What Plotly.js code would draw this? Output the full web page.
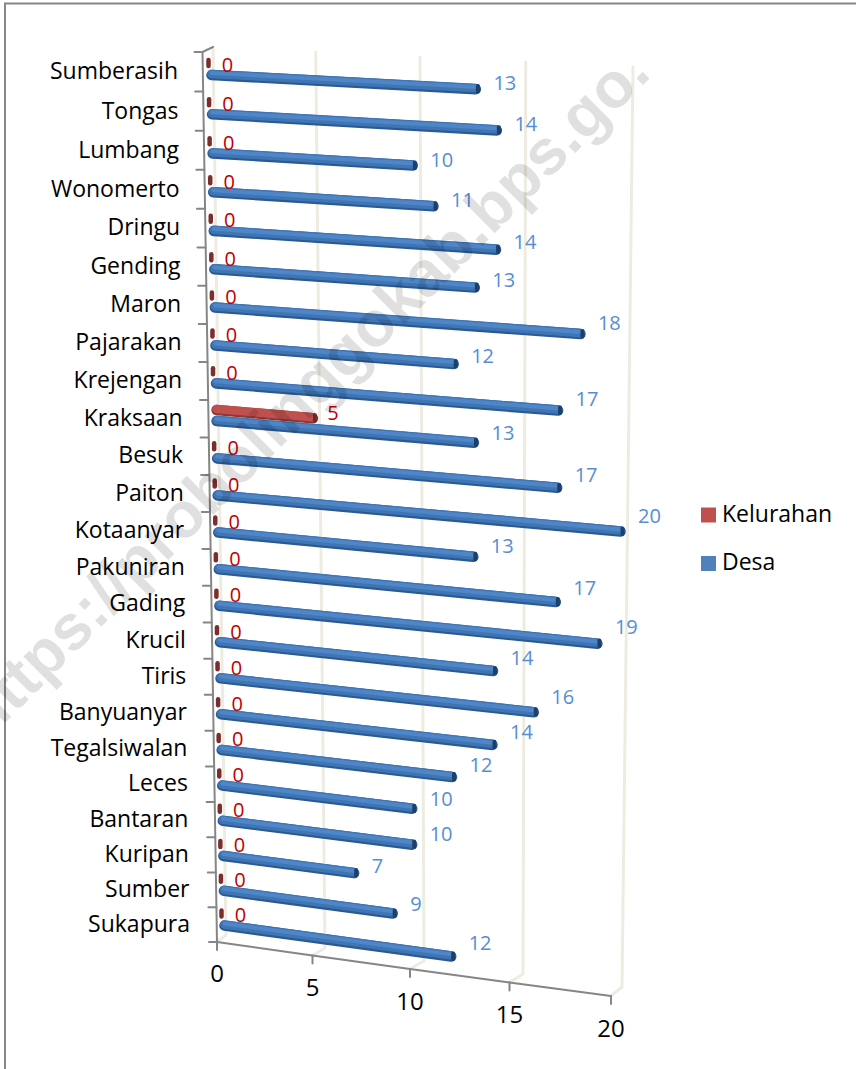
<!DOCTYPE html>
<html>
<head>
<meta charset="utf-8">
<script src="https://cdn.plot.ly/plotly-3.0.1.min.js"></script>
<style>
html,body{margin:0;padding:0;background:#fff}
.scatterlayer .js-line{stroke-linecap:round}
</style>
</head>
<body>
<div id="chart" style="width:856px;height:1069px"></div>
<script>
const categories = ["Sumberasih","Tongas","Lumbang","Wonomerto","Dringu","Gending","Maron","Pajarakan","Krejengan","Kraksaan","Besuk","Paiton","Kotaanyar","Pakuniran","Gading","Krucil","Tiris","Banyuanyar","Tegalsiwalan","Leces","Bantaran","Kuripan","Sumber","Sukapura"];
const desa = [13,14,10,11,14,13,18,12,17,13,17,20,13,17,19,14,16,14,12,10,10,7,9,12];
const kelurahan = [0,0,0,0,0,0,0,0,0,5,0,0,0,0,0,0,0,0,0,0,0,0,0,0];
const valueTicks = [0,5,10,15,20];
const seriesNames = ["Kelurahan","Desa"];

const FONT = "'Open Sans', sans-serif";
const GRID = "#eeece1", AXIS = "#868686";

// Perspective-like projection of the 3-D view: row r (0 = top), value v -> scene coordinates
const rowY = r => 74.5 + 39.37*r - 0.104*r*r;
const rowX = r => 211.5 + 13*r/23;
const unitX = r => 19.48 - 0.06*r;
const unitY = r => 1.08 + 0.065*r;
const px = (r,v) => rowX(r) + unitX(r)*v + 0.066*v*v;
const py = (r,v) => rowY(r) + unitY(r)*v;

function segs(list){
  const x=[],y=[];
  list.forEach(l=>{l.forEach(p=>{x.push(p[0]);y.push(p[1]);});x.push(null);y.push(null);});
  return {x,y};
}
function lineTrace(list,color,width){
  const s=segs(list);
  return {type:"scatter",mode:"lines",x:s.x,y:s.y,line:{color,width,simplify:false},hoverinfo:"skip",showlegend:false};
}
function textTrace(xs,ys,texts,color,size,pos){
  return {type:"scatter",mode:"text",x:xs,y:ys,text:texts,textposition:pos||"middle center",
    textfont:{family:FONT,size,color},hoverinfo:"skip",showlegend:false,cliponaxis:false};
}
const rows = categories.map((_,i)=>i);
const traces = [];

// walls / gridlines
traces.push(lineTrace(valueTicks.map(v=>[[213+20.4*v+0.03*v*v,47+1.0*v],[226+19.8*v,935+2.6*v],[217+18.9*v+0.04*v*v,942+2.7*v]]),GRID,3));

// axes
const kTick = k => 52 + 39.6*k - 0.105*k*k;
const kX = k => 202.5 + 14.5*k/24;
traces.push(lineTrace([[[213,47],[kX(0),kTick(0)],[kX(24),kTick(24)]]],AXIS,2));
traces.push(lineTrace(Array.from({length:25},(_,k)=>[[kX(k)-8,kTick(k)],[kX(k),kTick(k)]]),AXIS,2));
const fx = v => 217+18.9*v+0.04*v*v, fy = v => 942+2.7*v;
traces.push(lineTrace([valueTicks.map(v=>[fx(v),fy(v)])],AXIS,2));
traces.push(lineTrace(valueTicks.map(v=>[[fx(v),fy(v)],[fx(v),fy(v)+8]]),AXIS,2));

// Desa bars (cylinder look: dark edge, body, highlight, end cap)
const desaBars = rows.map(r=>[[px(r,0),py(r,0)],[px(r,desa[r]),py(r,desa[r])]]);
const shift = (list,d) => list.map(l=>l.map(p=>[p[0],p[1]+d]));
traces.push(lineTrace(shift(desaBars,0.6),"#2a5a90",10.5));
traces.push(lineTrace(shift(desaBars,-0.5),"#3f75b5",8.5));
traces.push(lineTrace(shift(desaBars,-1.5),"#4f86c8",4));
traces.push(lineTrace(rows.map(r=>[[px(r,desa[r])+2,py(r,desa[r])-2.5],[px(r,desa[r])+2,py(r,desa[r])+3]]),"#1d3f6b",4));

// Kelurahan bars
const kelRows = rows.filter(r=>kelurahan[r]>0);
const zeroRows = rows.filter(r=>kelurahan[r]===0);
const kx = (r,v)=>px(r,v), ky=(r,v)=>py(r,v)-11;
const kelBars = kelRows.map(r=>[[kx(r,0),ky(r,0)],[kx(r,kelurahan[r]),ky(r,kelurahan[r])]]);
traces.push(lineTrace(shift(kelBars,0.6),"#8c3836",10.5));
traces.push(lineTrace(shift(kelBars,-0.5),"#c0504d",8.5));
traces.push(lineTrace(kelRows.map(r=>[[kx(r,kelurahan[r])+2,ky(r,kelurahan[r])-2.5],[kx(r,kelurahan[r])+2,ky(r,kelurahan[r])+3]]),"#6d2a29",4));
traces.push(lineTrace(zeroRows.map(r=>[[kx(r,0)-3,ky(r,0)-3.5],[kx(r,0)-3,ky(r,0)+2.5]]),"#7b2e2e",4.5));

// value labels
const blueX = r => px(r,desa[r]) + 17.5;
const blueY = r => py(r,0) + 0.55*unitY(r)*desa[r] + 3;
traces.push(textTrace(rows.map(blueX),rows.map(blueY),desa.map(String),"#558ed5",20,"middle right"));
traces.push(textTrace(rows.map(r=>px(r,kelurahan[r])+(kelurahan[r]?20:16)),rows.map(r=>ky(r,kelurahan[r])+(kelurahan[r]?-3:3)),kelurahan.map(String),"#c00000",20));

// category labels
traces.push(textTrace(rows.map(r=>178+12*r/23),rows.map(r=>rowY(r)-1+2*r/23),categories,"#000",23,"middle left"));

// value tick labels
traces.push(textTrace(valueTicks.map(fx),valueTicks.map(v=>976+2.75*v),valueTicks.map(String),"#000",24));

// legend
const legendColors = ["#c0504d","#4f81bd"];
seriesNames.forEach((n,i)=>{
  traces.push({type:"scatter",mode:"markers",x:[708.5],y:[515+48.5*i],name:n,
    marker:{symbol:"square",size:15,color:legendColors[i]},hoverinfo:"skip",showlegend:false,cliponaxis:false});
  traces.push(textTrace([722],[516+48.5*i],[n],"#000",23,"middle right"));
});

const layout = {
  width:856,height:1069,margin:{l:0,r:0,t:0,b:0},paper_bgcolor:"#fff",plot_bgcolor:"#fff",showlegend:false,
  xaxis:{range:[0,856],visible:false,fixedrange:true},
  yaxis:{range:[1069,0],visible:false,fixedrange:true},
  shapes:[{type:"path",path:"M5,1069 L5,3.5 L856,3.5",line:{color:AXIS,width:2},xref:"x",yref:"y",layer:"below"}],
  annotations:[{text:"<b>https://probolinggokab.bps.go.</b>",x:304,y:393,xref:"x",yref:"y",showarrow:false,textangle:-45,
    font:{family:"'Liberation Sans',sans-serif",size:64,color:"rgba(0,0,0,0.12)"}}]
};
Plotly.newPlot("chart",traces,layout,{displayModeBar:false,staticPlot:true});
</script>
</body>
</html>
